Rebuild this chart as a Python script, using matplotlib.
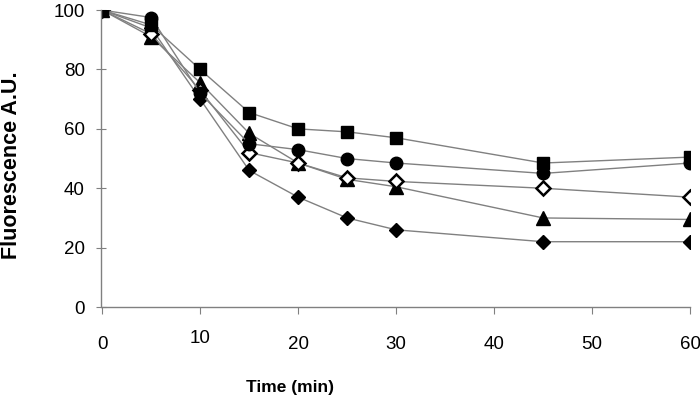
import matplotlib
matplotlib.use("Agg")
import matplotlib.pyplot as plt

time_min = [0, 5, 10, 15, 20, 25, 30, 45, 60]

square = [100, 95, 80, 65.5, 60, 59, 57, 48.5, 50.5]
circle = [100, 97.5, 72, 55, 53, 50, 48.5, 45, 48.5]
open_diamond = [100, 92, 73, 52, 48.5, 43.5, 42.3, 40, 37]
triangle = [100, 91, 75.5, 58.5, 48.5, 43, 40.5, 30, 29.5]
filled_diamond = [100, 94, 70, 46, 37, 30, 26, 22, 22]

x_ticks = [0, 10, 20, 30, 40, 50, 60]
y_ticks = [0, 20, 40, 60, 80, 100]

plt.rcParams["font.family"] = ["Liberation Sans", "DejaVu Sans"]

fig = plt.figure(figsize=(7.0, 4.04), dpi=100)
ax = fig.add_axes([0.146, 0.240, 0.840, 0.735])

line_kw = dict(color="#808080", linewidth=1.0, markeredgecolor="black")
ax.plot(time_min, filled_diamond, marker="D", markersize=7.5, markerfacecolor="black", **line_kw)
ax.plot(time_min, triangle, marker="^", markersize=9.5, markerfacecolor="black", **line_kw)
ax.plot(time_min, open_diamond, marker="D", markersize=7.5, markerfacecolor="white",
        markeredgewidth=1.8, **line_kw)
ax.plot(time_min, circle, marker="o", markersize=9, markerfacecolor="black", **line_kw)
ax.plot(time_min, square, marker="s", markersize=9, markerfacecolor="black", **line_kw)

ax.set_xlim(0, 60)
ax.set_ylim(0, 100)
ax.set_xticks(x_ticks)
ax.set_yticks(y_ticks)

for side in ("top", "right"):
    ax.spines[side].set_visible(False)
for side in ("left", "bottom"):
    ax.spines[side].set_color("#808080")
    ax.spines[side].set_linewidth(1.0)
ax.spines["left"].set_position(("data", -0.15))

ax.tick_params(axis="x", direction="out", length=5, color="#808080", pad=16, labelsize=13.5)
ax.tick_params(axis="y", direction="inout", length=7, color="#808080", pad=8, labelsize=13.5)
# the "10" sits a little higher in the original
ax.get_xticklabels()[1].set_y(0.02)

ax.set_xlabel("Time (min)", fontsize=12.5, fontweight="bold")
ax.set_ylabel("Fluorescence A.U.", fontsize=15.5, fontweight="bold")
ax.xaxis.set_label_coords(0.32, -0.245)
ax.yaxis.set_label_coords(-0.136, 0.478)

plt.savefig("out.png", dpi=100)
